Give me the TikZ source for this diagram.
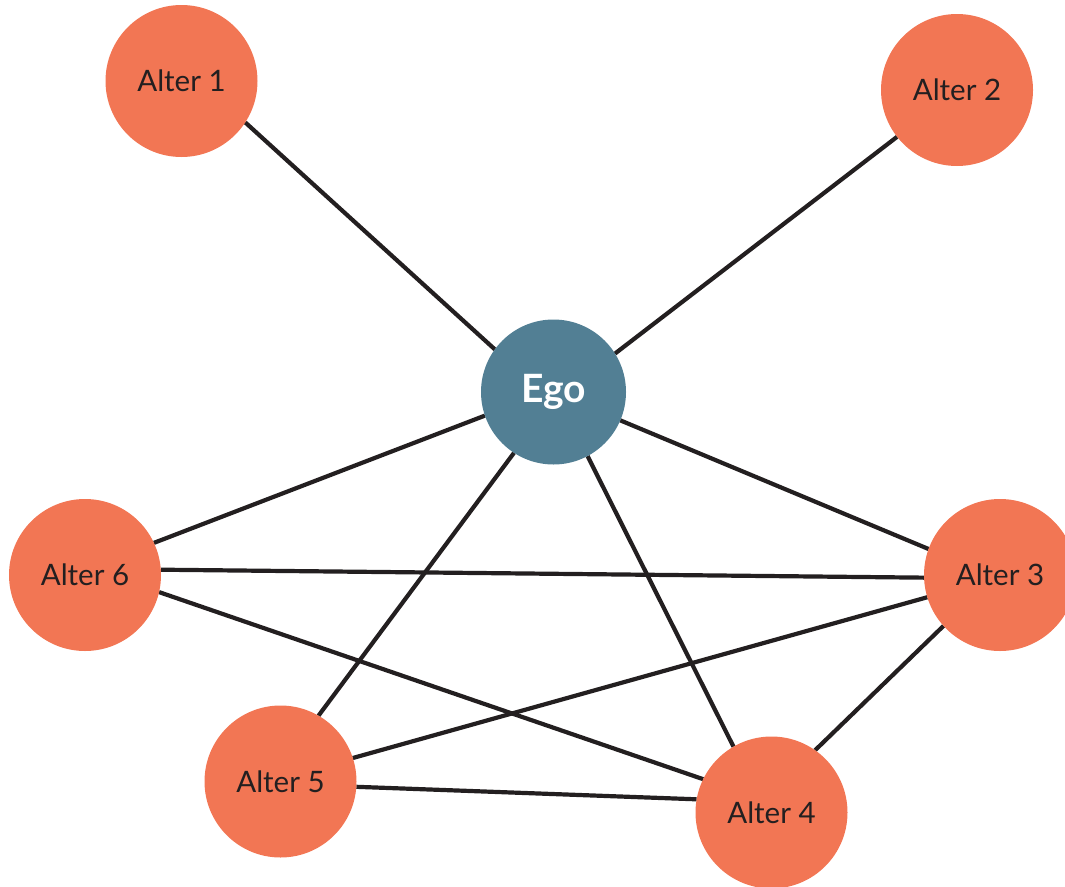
\documentclass[tikz,border=0pt]{standalone}
\usepackage{fontspec}
\setmainfont{Lato}
\usetikzlibrary{backgrounds}
\definecolor{altercol}{HTML}{F27654}
\definecolor{egocol}{HTML}{527F94}
\definecolor{inkcol}{HTML}{231F20}
\begin{document}
\begin{tikzpicture}[x=1pt,y=1pt,
  alter/.style={circle,fill=altercol,minimum size=152pt,inner sep=0pt,outer sep=0pt,
    text=inkcol,font=\fontsize{29.5}{33}\selectfont},
  egonode/.style={circle,fill=egocol,minimum size=145pt,inner sep=0pt,outer sep=0pt,
    text=white,font=\fontsize{39}{44}\selectfont\bfseries},
  tie/.style={draw=inkcol,line width=4.2pt}]
\useasboundingbox (0,0) rectangle (1065,-886);
\clip (0,0) rectangle (1065,-886);
\node[egonode] (ego) at (553.5,-392) {Ego};
\node[alter] (a1) at (181.5,-81) {Alter 1};
\node[alter] (a2) at (957,-90) {Alter 2};
\node[alter] (a3) at (1000,-575) {Alter 3};
\node[alter] (a4) at (771.5,-812.5) {Alter 4};
\node[alter] (a5) at (280.5,-781.5) {Alter 5};
\node[alter] (a6) at (85,-575) {Alter 6};
\begin{scope}[on background layer]
\draw[tie] (a1.-33.5) -- (ego.144.6);
\draw[tie] (a2.218) -- (ego.32.4);
\draw[tie] (a6.25.6) -- (ego.199.5);
\draw[tie] (ego.-23.6) -- (a3.160.9);
\draw[tie] (ego.237.3) -- (a5.60.2);
\draw[tie] (ego.-62.7) -- (a4.120.8);
\draw[tie] (a6.4.5) -- (a3.182.3);
\draw[tie] (a6.-13.7) -- (a4.154.9);
\draw[tie] (a3.197.5) -- (a5.18);
\draw[tie] (a3.222.4) -- (a4.55.2);
\draw[tie] (a5.-4.9) -- (a4.170.5);
\end{scope}
\end{tikzpicture}
\end{document}
